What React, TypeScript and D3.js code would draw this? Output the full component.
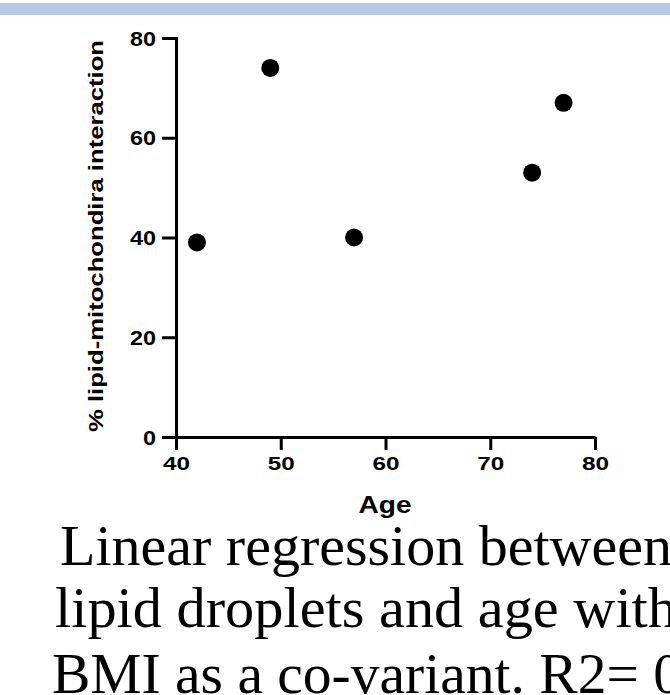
import React, { useEffect, useRef } from 'react';
import * as d3 from 'd3';

// values
const ages = [42, 49, 57, 74, 77];
const interaction = [39, 74, 40, 53, 67];
const xTicks = [40, 50, 60, 70, 80];
const yTicks = [0, 20, 40, 60, 80];
const captionLines = [
  'Linear regression between',
  'lipid droplets and age with',
  'BMI as a co-variant. R2= 0',
];

const App = () => {
  const svgRef = useRef<SVGSVGElement | null>(null);

  useEffect(() => {
    if (!svgRef.current) return;
    const svg = d3.select(svgRef.current);
    svg.selectAll('*').remove();

    const width = 670;

    // top banner strip
    svg.append('rect')
      .attr('x', 0)
      .attr('y', 3)
      .attr('width', width)
      .attr('height', 12)
      .attr('fill', '#b4c7e7');

    const x = d3.scaleLinear().domain([40, 80]).range([176, 595]);
    const y = d3.scaleLinear().domain([0, 80]).range([437, 38]);

    const sans = 'Liberation Sans, Arial, sans-serif';

    // y axis
    const yAxis = svg.append('g')
      .attr('transform', `translate(${x(40)},0)`)
      .call(d3.axisLeft(y).tickValues(yTicks).tickSize(14).tickSizeOuter(0).tickPadding(6));
    yAxis.select('.domain').attr('stroke', '#000').attr('stroke-width', 3).attr('stroke-linecap', 'square');
    yAxis.selectAll('.tick line').attr('stroke', '#000').attr('stroke-width', 3);
    yAxis.selectAll<SVGTextElement, number>('.tick text')
      .attr('font-family', sans)
      .attr('font-weight', 'bold')
      .attr('font-size', 20)
      .attr('fill', '#000')
      .attr('dy', '0.36em')
      .attr('textLength', d => String(d).length * 13)
      .attr('lengthAdjust', 'spacingAndGlyphs');

    // x axis
    const xAxis = svg.append('g')
      .attr('transform', `translate(0,${y(0)})`)
      .call(d3.axisBottom(x).tickValues(xTicks).tickSize(13).tickSizeOuter(0).tickPadding(6));
    xAxis.select('.domain').attr('stroke', '#000').attr('stroke-width', 3);
    xAxis.selectAll('.tick line').attr('stroke', '#000').attr('stroke-width', 3);
    xAxis.selectAll('.tick text')
      .attr('font-family', sans)
      .attr('font-weight', 'bold')
      .attr('font-size', 19)
      .attr('fill', '#000')
      .attr('dy', '0.72em')
      .attr('textLength', 27)
      .attr('lengthAdjust', 'spacingAndGlyphs');

    // axis titles
    svg.append('text')
      .attr('x', 385)
      .attr('y', 513)
      .attr('text-anchor', 'middle')
      .attr('font-family', sans)
      .attr('font-weight', 'bold')
      .attr('font-size', 23)
      .attr('textLength', 53)
      .attr('lengthAdjust', 'spacingAndGlyphs')
      .text('Age');

    svg.append('text')
      .attr('transform', 'translate(103,236) rotate(-90)')
      .attr('text-anchor', 'middle')
      .attr('font-family', sans)
      .attr('font-weight', 'bold')
      .attr('font-size', 21)
      .attr('textLength', 392)
      .attr('lengthAdjust', 'spacingAndGlyphs')
      .text('% lipid-mitochondira interaction');

    // points
    svg.append('g')
      .selectAll('circle')
      .data(ages.map((a, i) => ({ a, v: interaction[i] })))
      .enter()
      .append('circle')
      .attr('cx', d => x(d.a))
      .attr('cy', d => y(d.v))
      .attr('r', 9)
      .attr('fill', '#000');

    // caption below the chart, runs past the right edge like the source
    const lineX = [60, 55, 52];
    const lineY = [565, 627, 693];
    const lineLen = [612, 622, 630];
    svg.append('g')
      .selectAll('text')
      .data(captionLines)
      .enter()
      .append('text')
      .attr('x', (_, i) => lineX[i])
      .attr('y', (_, i) => lineY[i])
      .attr('font-family', 'Liberation Serif, Times New Roman, serif')
      .attr('font-size', 57)
      .attr('fill', '#000')
      .attr('textLength', (_, i) => lineLen[i])
      .attr('lengthAdjust', 'spacingAndGlyphs')
      .text(d => d);
  }, []);

  return (
    <svg
      ref={svgRef}
      width={670}
      height={695}
      style={{ position: 'absolute', left: 0, top: 0, background: '#fff' }}
    />
  );
};

export default App;
